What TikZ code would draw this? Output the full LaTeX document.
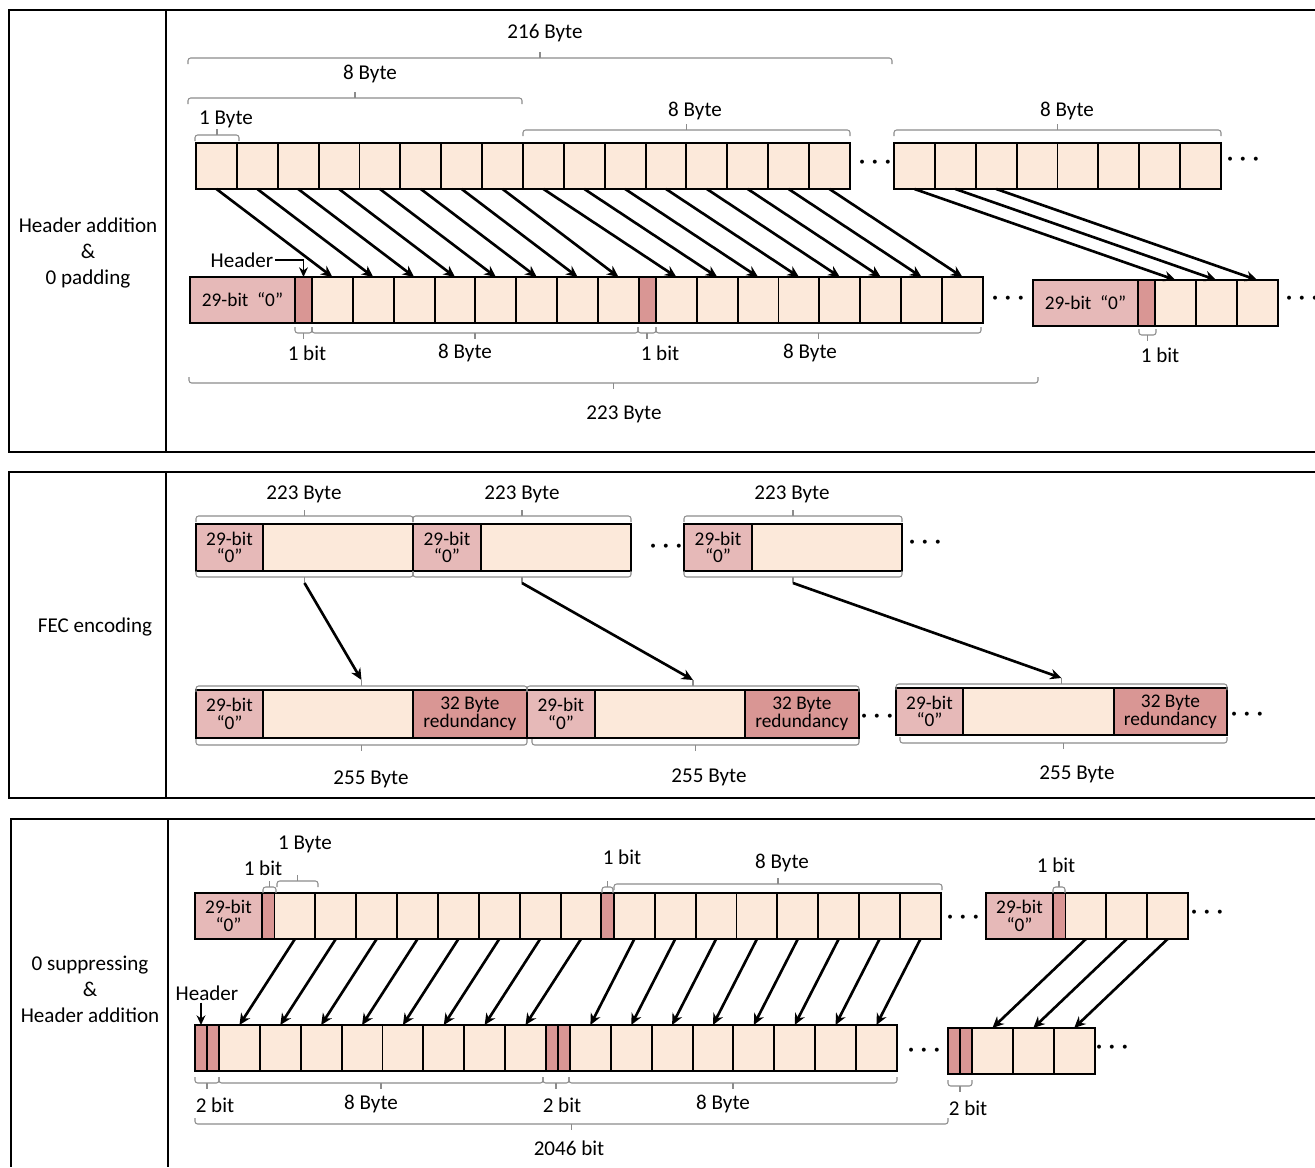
\documentclass[tikz,border=0pt]{standalone}
\usepackage{fontspec}
\setmainfont{Carlito}
\usetikzlibrary{positioning}
\usetikzlibrary{arrows.meta}

\definecolor{cellfill}{HTML}{FCE9DA}
\definecolor{zerofill}{HTML}{E6B9B8}
\definecolor{hdrfill}{HTML}{D99694}
\definecolor{bracegray}{HTML}{8C8C8C}

\tikzset{
  panel/.style={line width=1.1pt},
  cell/.style={draw, line width=1.1pt, fill=cellfill, minimum width=0.8175cm, minimum height=0.92cm, inner sep=0pt, outer sep=0pt},
  zerobox/.style={cell, fill=zerofill, font=\fontsize{11}{10}\selectfont, align=center},
  hdrbit/.style={cell, fill=hdrfill, minimum width=0.34cm},
  redbox/.style={cell, fill=hdrfill, font=\fontsize{11}{10}\selectfont, align=center},
  payload/.style={cell, minimum width=3cm},
  txt/.style={font=\fontsize{12}{14.7}\selectfont, inner sep=1pt},
  ellip/.style={font=\fontsize{15}{15}\selectfont\boldmath, inner sep=0pt},
  brace/.style={draw=bracegray, line width=0.6pt, rounded corners=1.5pt},
  mapping/.style={line width=1.5pt, -{Stealth[length=6.5pt, width=6pt]}},
  pointer/.style={line width=0.9pt, -{Stealth[length=5.5pt, width=5pt]}},
}

% bracket opening downwards, tick up; tick end named #4
\newcommand{\bracetop}[4]{%
  \draw[brace] (#1,#3+6) -- (#1,#3) -- (#2,#3) -- (#2,#3+6);
  \draw[brace] ({(#1+#2)/2},#3) -- ({(#1+#2)/2},#3-6) coordinate (#4);}
% bracket opening upwards, tick down
\newcommand{\bracebot}[4]{%
  \draw[brace] (#1,#3-6) -- (#1,#3) -- (#2,#3) -- (#2,#3-6);
  \draw[brace] ({(#1+#2)/2},#3) -- ({(#1+#2)/2},#3+6) coordinate (#4);}

\begin{document}
\begin{tikzpicture}[x=0.02cm, y=-0.02cm]
\useasboundingbox (0,0) rectangle (1315,1167);

% ---------------- panel 1 : header addition & 0 padding
\draw[panel] (1315,10) -- (9,10) -- (9,452) -- (1315,452);
\draw[panel] (166,10) -- (166,452);
\node[txt, align=center] (name1) at (88,253) {Header addition\\\&\\0 padding};

% input bytes
\node[cell, anchor=north west] (t0) at (196,143) {};
\foreach \i [remember=\i as \j (initially 0)] in {1,...,15}
  \node[cell, right=0pt of t\j] (t\i) {};
\node[ellip] (dt1) at (875,163) {$\cdots$};
\node[cell, anchor=north west] (u0) at (894,143) {};
\foreach \i [remember=\i as \j (initially 0)] in {1,...,7}
  \node[cell, right=0pt of u\j] (u\i) {};
\node[ellip] (dt2) at (1243,160) {$\cdots$};

% padded frame
\node[zerobox, minimum width=2.1cm, anchor=north west] (z1) at (190,277) {29-bit~~“0”};
\node[hdrbit, right=0pt of z1] (h1) {};
\node[cell, right=0pt of h1] (b0) {};
\foreach \i [remember=\i as \j (initially 0)] in {1,...,7}
  \node[cell, right=0pt of b\j] (b\i) {};
\node[hdrbit, right=0pt of b7] (h2) {};
\node[cell, right=0pt of h2] (b8) {};
\foreach \i [remember=\i as \j (initially 8)] in {9,...,15}
  \node[cell, right=0pt of b\j] (b\i) {};
\node[ellip] (dt3) at (1008,299) {$\cdots$};
\node[zerobox, minimum width=2.1cm, anchor=north west] (z2) at (1033,280) {29-bit~~“0”};
\node[hdrbit, right=0pt of z2] (h3) {};
\node[cell, right=0pt of h3] (v0) {};
\foreach \i [remember=\i as \j (initially 0)] in {1,2}
  \node[cell, right=0pt of v\j] (v\i) {};
\node[ellip] (dt4) at (1302,299) {$\cdots$};

\node[txt] (hdr1) at (242,260) {Header};
\draw[pointer] (hdr1.east) -| (h1.north);

\foreach \i in {0,...,15}
  \draw[mapping] (t\i.south) -- (b\i.north);
\foreach \i in {0,1,2}
  \draw[mapping] (u\i.south) -- (v\i.north);

\bracetop{188}{892}{58}{k1}
\node[txt] at (545,33) {216 Byte};
\bracetop{188}{522}{98}{k2}
\node[txt] at (370,74) {8 Byte};
\bracetop{195}{239}{135}{k3}
\node[txt] at (226,119) {1 Byte};
\bracetop{523}{850}{130}{k4}
\node[txt] at (695,111) {8 Byte};
\bracetop{894}{1221}{130}{k5}
\node[txt] at (1067,111) {8 Byte};
\bracebot{295}{312}{333}{k6}
\node[txt] at (307,353) {1 bit};
\bracebot{312}{638}{333}{k7}
\node[txt] at (465,353) {8 Byte};
\bracebot{638}{656}{333}{k8}
\node[txt] at (660,353) {1 bit};
\bracebot{656}{981}{333}{k9}
\node[txt] at (810,353) {8 Byte};
\bracebot{189}{1038}{383}{k10}
\node[txt] at (624,414) {223 Byte};
\bracebot{1139}{1156}{335}{k11}
\node[txt] at (1160,355) {1 bit};

% ---------------- panel 2 : FEC encoding
\draw[panel] (1315,472) -- (9,472) -- (9,798) -- (1315,798);
\draw[panel] (166,472) -- (166,798);
\node[txt] (name2) at (95,627) {FEC encoding};

\node[zerobox, minimum width=1.34cm, minimum height=0.94cm, anchor=north west] (fa0) at (196,524) {29-bit\\“0”};
\node[payload, minimum height=0.94cm, right=0pt of fa0] (fa1) {};
\node[zerobox, minimum width=1.36cm, minimum height=0.94cm, right=0pt of fa1] (fb0) {29-bit\\“0”};
\node[payload, minimum height=0.94cm, right=0pt of fb0] (fb1) {};
\node[ellip] (dt5) at (666,546) {$\cdots$};
\node[zerobox, minimum width=1.36cm, minimum height=0.94cm, anchor=north west] (fc0) at (684,524) {29-bit\\“0”};
\node[payload, minimum height=0.94cm, right=0pt of fc0] (fc1) {};
\node[ellip] (dt6) at (925,542) {$\cdots$};

\node[zerobox, minimum width=1.34cm, minimum height=0.96cm, anchor=north west] (fd0) at (196,690) {29-bit\\“0”};
\node[payload, minimum height=0.96cm, right=0pt of fd0] (fd1) {};
\node[redbox, minimum width=2.28cm, minimum height=0.96cm, right=0pt of fd1] (fd2) {32 Byte\\redundancy};
\node[zerobox, minimum width=1.36cm, minimum height=0.96cm, right=0pt of fd2] (fe0) {29-bit\\“0”};
\node[payload, minimum height=0.96cm, right=0pt of fe0] (fe1) {};
\node[redbox, minimum width=2.28cm, minimum height=0.96cm, right=0pt of fe1] (fe2) {32 Byte\\redundancy};
\node[ellip] (dt7) at (877,716) {$\cdots$};
\node[zerobox, minimum width=1.34cm, minimum height=0.94cm, anchor=north west] (ff0) at (896,688) {29-bit\\“0”};
\node[payload, minimum width=3.02cm, minimum height=0.94cm, right=0pt of ff0] (ff1) {};
\node[redbox, minimum width=2.26cm, minimum height=0.94cm, right=0pt of ff1] (ff2) {32 Byte\\redundancy};
\node[ellip] (dt8) at (1247,714) {$\cdots$};

\bracetop{196}{413}{516}{ka}
\node[txt] at (304,494) {223 Byte};
\bracetop{413}{631}{516}{kb}
\node[txt] at (522,494) {223 Byte};
\bracetop{684}{902}{516}{kc}
\node[txt] at (792,494) {223 Byte};
\bracebot{196}{413}{577}{ua}
\bracebot{413}{631}{577}{ub}
\bracebot{684}{902}{577}{uc}
\bracetop{196}{527}{686}{ud}
\bracetop{527}{859}{686}{ue}
\bracetop{896}{1227}{684}{uf}
\bracebot{196}{527}{745}{kd}
\node[txt] at (371,779) {255 Byte};
\bracebot{532}{859}{745}{ke}
\node[txt] at (709,777) {255 Byte};
\bracebot{900}{1227}{743}{kf}
\node[txt] at (1077,774) {255 Byte};

\draw[mapping] (ua) -- (ud);
\draw[mapping] (ub) -- (ue);
\draw[mapping] (uc) -- (uf);

% ---------------- panel 3 : 0 suppressing & header addition
\draw[panel] (1315,819) -- (11,819) -- (11,1167);
\draw[panel] (168,819) -- (168,1167);
\node[txt, align=center] (name3) at (90,989) {0 suppressing\\\&\\Header addition};

\node[zerobox, minimum width=1.34cm, anchor=north west] (pz) at (195,893) {29-bit\\“0”};
\node[hdrbit, minimum width=0.25cm, right=0pt of pz] (ph0) {};
\node[cell, right=0pt of ph0] (p0) {};
\foreach \i [remember=\i as \j (initially 0)] in {1,...,7}
  \node[cell, right=0pt of p\j] (p\i) {};
\node[hdrbit, minimum width=0.25cm, right=0pt of p7] (ph1) {};
\node[cell, right=0pt of ph1] (p8) {};
\foreach \i [remember=\i as \j (initially 8)] in {9,...,15}
  \node[cell, right=0pt of p\j] (p\i) {};
\node[ellip] (dt9) at (963,917) {$\cdots$};
\node[zerobox, minimum width=1.34cm, anchor=north west] (rz) at (986,893) {29-bit\\“0”};
\node[hdrbit, minimum width=0.25cm, right=0pt of rz] (rh) {};
\node[cell, right=0pt of rh] (r0) {};
\foreach \i [remember=\i as \j (initially 0)] in {1,2}
  \node[cell, right=0pt of r\j] (r\i) {};
\node[ellip] (dt10) at (1207,912) {$\cdots$};

\node[hdrbit, minimum width=0.24cm, anchor=north west] (qh0) at (195,1025) {};
\node[hdrbit, minimum width=0.24cm, right=0pt of qh0] (qh1) {};
\node[cell, right=0pt of qh1] (q0) {};
\foreach \i [remember=\i as \j (initially 0)] in {1,...,7}
  \node[cell, right=0pt of q\j] (q\i) {};
\node[hdrbit, minimum width=0.24cm, right=0pt of q7] (qh2) {};
\node[hdrbit, minimum width=0.24cm, right=0pt of qh2] (qh3) {};
\node[cell, right=0pt of qh3] (q8) {};
\foreach \i [remember=\i as \j (initially 8)] in {9,...,15}
  \node[cell, right=0pt of q\j] (q\i) {};
\node[ellip] (dt11) at (924,1050) {$\cdots$};
\node[hdrbit, minimum width=0.24cm, anchor=north west] (sh0) at (948,1028) {};
\node[hdrbit, minimum width=0.24cm, right=0pt of sh0] (sh1) {};
\node[cell, right=0pt of sh1] (s0) {};
\foreach \i [remember=\i as \j (initially 0)] in {1,2}
  \node[cell, right=0pt of s\j] (s\i) {};
\node[ellip] (dt12) at (1112,1047) {$\cdots$};

\node[txt] (hdr2) at (207,993) {Header};
\draw[pointer] (hdr2.south -| qh0.north) -- (qh0.north);

\foreach \i in {0,...,15}
  \draw[mapping] (p\i.south) -- (q\i.north);
\foreach \i in {0,1,2}
  \draw[mapping] (r\i.south) -- (s\i.north);

\bracetop{263}{276}{887}{m1}
\node[txt] at (263,868) {1 bit};
\bracetop{277}{318}{881}{m2}
\node[txt] at (305,844) {1 Byte};
\bracetop{602}{613}{887}{m3}
\node[txt] at (622,857) {1 bit};
\bracetop{614}{942}{884}{m4}
\node[txt] at (782,863) {8 Byte};
\bracetop{1053}{1065}{887}{m5}
\node[txt] at (1056,865) {1 bit};
\bracebot{195}{219}{1083}{m6}
\node[txt] at (215,1105) {2 bit};
\bracebot{219}{543}{1083}{m7}
\node[txt] at (371,1104) {8 Byte};
\bracebot{543}{569}{1083}{m8}
\node[txt] at (562,1105) {2 bit};
\bracebot{569}{897}{1083}{m9}
\node[txt] at (723,1104) {8 Byte};
\bracebot{195}{948}{1124}{m10}
\node[txt] at (569,1148) {2046 bit};
\bracebot{948}{972}{1086}{m11}
\node[txt] at (968,1108) {2 bit};
\end{tikzpicture}
\end{document}
